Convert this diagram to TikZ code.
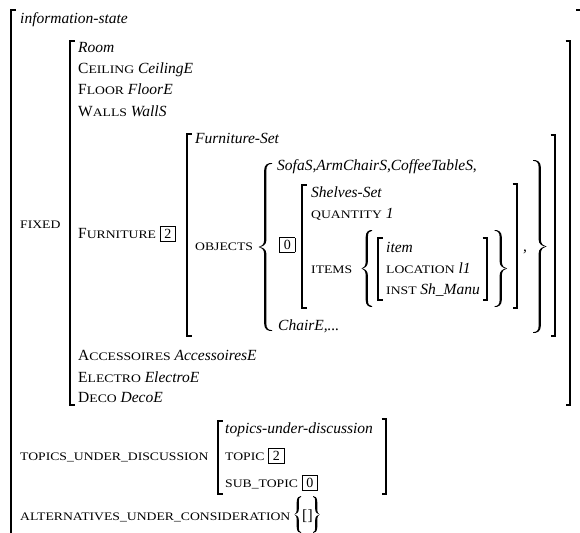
\documentclass[tikz,border=0pt]{standalone}
\usepackage{fontspec}
\setmainfont{Liberation Serif}
\newfontfamily\scf[FakeStretch=1.19]{Liberation Serif}
\newcommand\sca[1]{{\fontsize{11.5}{13}\scf #1}}
\newcommand\bx[1]{{\fontsize{14}{16}\selectfont\fboxsep=0pt\fboxrule=0.6pt\fbox{\makebox[15pt]{\rule[-3pt]{0pt}{14pt}#1}}}}
\newcommand\lbr[3]{\draw[brk] (#1+4.5,#2) -- (#1,#2) -- (#1,#3) -- (#1+4.5,#3);}
\newcommand\rbr[3]{\draw[brk] (#1-4.5,#2) -- (#1,#2) -- (#1,#3) -- (#1-4.5,#3);}
% curly brace: #1 stem x, #2 top y, #3 bottom y, #4 sign (1 left, -1 right), #5 tip extent, #6 middle extent
\newcommand\cbrace[6]{%
\pgfmathsetmacro\bym{(#2+#3)/2}%
\pgfmathsetmacro\bA{#4*#5}%
\pgfmathsetmacro\bB{#4*#6}%
\pgfmathsetmacro\bT{#4*1.3}%
\pgfmathsetmacro\bTi{#4*0.9}%
\pgfmathsetmacro\bR{min(7,(#3-#2)/6)}%
\fill[brfill] ({#1+\bA},#2)
 .. controls ({#1+0.35*\bA},{#2-0.2}) and ({#1-\bT},{#2+0.25*\bR}) .. ({#1-\bT},{#2+\bR})
 -- ({#1-\bT},{\bym-\bR})
 .. controls ({#1-\bT},{\bym-0.35*\bR}) and ({#1-0.6*\bB},{\bym-0.3}) .. ({#1-\bB},\bym)
 .. controls ({#1-0.6*\bB},{\bym+0.3}) and ({#1-\bT},{\bym+0.35*\bR}) .. ({#1-\bT},{\bym+\bR})
 -- ({#1-\bT},{#3-\bR})
 .. controls ({#1-\bT},{#3-0.25*\bR}) and ({#1+0.35*\bA},{#3+0.2}) .. ({#1+\bA},#3)
 -- ({#1+\bA},{#3-0.8})
 .. controls ({#1+0.4*\bA},{#3-0.9}) and ({#1+\bTi},{#3-0.4*\bR}) .. ({#1+\bTi},{#3-\bR})
 -- ({#1+\bTi},{\bym+\bR})
 .. controls ({#1+\bTi},{\bym+0.3*\bR}) and ({#1-0.4*\bB},{\bym+0.2}) .. ({#1-\bB},\bym)
 .. controls ({#1-0.4*\bB},{\bym-0.2}) and ({#1+\bTi},{\bym-0.3*\bR}) .. ({#1+\bTi},{\bym-\bR})
 -- ({#1+\bTi},{#2+\bR})
 .. controls ({#1+\bTi},{#2+0.4*\bR}) and ({#1+0.4*\bA},{#2+0.9}) .. ({#1+\bA},{#2+0.8})
 -- cycle;}
\begin{document}
\begin{tikzpicture}[x=1pt,y=-1pt,
  txt/.style={anchor=base west,inner sep=0,font=\fontsize{15.5}{18}\selectfont},
  brk/.style={line width=1.1pt},
  brfill/.style={fill=black}]
\useasboundingbox (0,0) rectangle (580,532);
% square brackets
\lbr{11}{10}{545}
\draw[brk] (576,10) -- (581,10) -- (581,545);
\lbr{70}{41}{405}
\rbr{570}{41}{405}
\lbr{187}{134}{336}
\rbr{555}{135}{336}
\lbr{302}{185}{308}
\rbr{517}{184}{308}
\lbr{378}{238}{300}
\rbr{487}{238}{300}
\lbr{218}{421}{494}
\rbr{386}{419}{494}
% curly braces
\cbrace{265.5}{163}{331}{1}{6.5}{7}
\cbrace{539.5}{160}{333}{-1}{6.5}{7}
\cbrace{367}{230}{307}{1}{5}{5.5}
\cbrace{500.5}{230}{307}{-1}{6}{6.5}
\cbrace{298}{496}{533}{1}{3}{3.5}
\cbrace{316}{496}{533}{-1}{3}{3.5}
% texts
\node[txt] (info) at (20,24) {\textit{information-state}};
\node[txt] (fixed) at (20,228) {\sca{FIXED}};
\node[txt] (room) at (78,53) {\textit{Room}};
\node[txt] (ceil) at (78,74) {C\sca{EILING} \textit{CeilingE}};
\node[txt] (floor) at (78,95) {F\sca{LOOR} \textit{FloorE}};
\node[txt] (walls) at (78,116) {W\sca{ALLS} \textit{WallS}};
\node[txt] (furn) at (78,238) {F\sca{URNITURE} \bx{2}};
\node[txt] (fset) at (195,143) {\textit{Furniture-Set}};
\node[txt] (obj) at (195,250) {\sca{OBJECTS}};
\node[txt] (sofa) at (277,170) {\textit{SofaS},\textit{ArmChairS},\textit{CoffeeTableS},};
\node[txt] (box0) at (279,249) {\bx{0}};
\node[txt] (shelves) at (311,197) {\textit{Shelves-Set}};
\node[txt] (qty) at (311,218) {\sca{QUANTITY} \textit{1}};
\node[txt] (items) at (311,273) {\sca{ITEMS}};
\node[txt] (item) at (386,252) {\textit{item}};
\node[txt] (loc) at (386,273) {\sca{LOCATION} \textit{l1}};
\node[txt] (inst) at (386,294) {\sca{INST} \textit{Sh\_Manu}};
\node[txt] (comma) at (523,251) {,};
\node[txt] (chair) at (278,330) {\textit{ChairE,...}};
\node[txt] (acc) at (78,360) {A\sca{CCESSOIRES} \textit{AccessoiresE}};
\node[txt] (elec) at (78,382) {E\sca{LECTRO} \textit{ElectroE}};
\node[txt] (deco) at (78,402) {D\sca{ECO} \textit{DecoE}};
\node[txt] (tud) at (20,460) {\sca{TOPICS\_UNDER\_DISCUSSION}};
\node[txt] (tudh) at (225,433) {\textit{topics-under-discussion}};
\node[txt] (topic) at (225,460) {\sca{TOPIC} \bx{2}};
\node[txt] (subtopic) at (225,487) {\sca{SUB\_TOPIC} \bx{0}};
\node[txt] (alt) at (20,520) {\sca{ALTERNATIVES\_UNDER\_CONSIDERATION}};
\node[txt] (altv) at (302,520) {[\kern0.3pt]};
\end{tikzpicture}
\end{document}
